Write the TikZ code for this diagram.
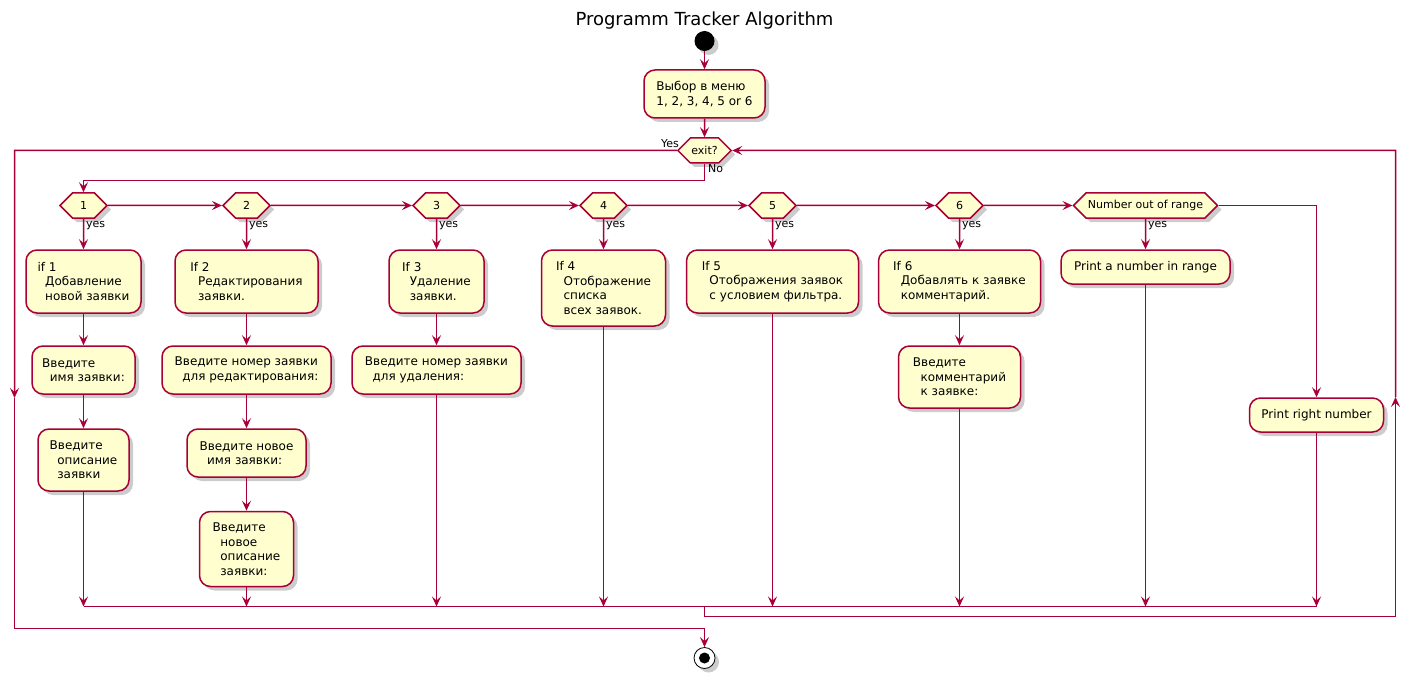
\documentclass[tikz,border=0pt]{standalone}
\usepackage{fontspec}
\setmainfont{DejaVu Sans}
\usetikzlibrary{arrows.meta,shapes.symbols,shadows}
\definecolor{umlred}{HTML}{A80036}
\definecolor{umlfill}{HTML}{FEFECE}
\newcommand{\ind}{\hspace*{7.6pt}}

\begin{document}
\begin{tikzpicture}[x=1pt,y=-1pt,
  line/.style={draw=umlred, line width=1.5pt},
  arr/.style={line, -{Stealth[length=10pt,width=9pt,inset=4pt]}},
  boxshadow/.style={drop shadow={shadow xshift=4pt,shadow yshift=-4pt,fill=black,opacity=0.2}},
  act/.style={draw=umlred, fill=umlfill, line width=1.5pt, rounded corners=11pt,
    align=left, font=\fontsize{12}{14.5}\selectfont, inner sep=2pt, boxshadow},
  cond/.style={draw=umlred, fill=umlfill, line width=1.5pt, signal,
    signal to=west and east, signal pointer angle=90, minimum height=25pt,
    font=\fontsize{11}{13}\selectfont, inner sep=1pt, boxshadow},
  lbl/.style={font=\fontsize{11}{13}\selectfont, inner sep=0pt},
]
\path[use as bounding box] (0,0) rectangle (1410,679);

% title, start, menu choice and exit test
\node[font=\fontsize{18}{21}\selectfont] (title) at (704.5,21) {Programm Tracker Algorithm};
\node[circle, fill=black, minimum size=20pt, inner sep=0pt, boxshadow] (start) at (704.5,41) {};
\node[act, minimum width=121pt, minimum height=48pt] (menu) at (704.5,94) {Выбор в меню\\1, 2, 3, 4, 5 or 6};
\node[cond, minimum width=48pt] (exit) at (704.5,150.5) {exit?};

% menu item tests
\node[cond, minimum width=47pt] (d1) at (83.5,205.5) {1};
\node[cond, minimum width=47pt] (d2) at (246.5,205.5) {2};
\node[cond, minimum width=47pt] (d3) at (436.5,205.5) {3};
\node[cond, minimum width=47pt] (d4) at (603.5,205.5) {4};
\node[cond, minimum width=47pt] (d5) at (772.5,205.5) {5};
\node[cond, minimum width=47pt] (d6) at (959.5,205.5) {6};
\node[cond, minimum width=144pt] (d7) at (1145.5,205.5) {Number out of range};

% column 1
\node[act, minimum width=115pt, minimum height=63pt] (b11) at (83.5,281.5) {if 1\\\ind Добавление\\\ind новой заявки};
\node[act, minimum width=103pt, minimum height=48pt] (b12) at (83.5,370) {Введите\\\ind имя заявки:};
\node[act, minimum width=91pt, minimum height=62pt] (b13) at (83.5,460) {Введите\\\ind описание\\\ind заявки};
% column 2
\node[act, minimum width=143pt, minimum height=63pt] (b21) at (246.5,281.5) {If 2\\\ind Редактирования\\\ind заявки.};
\node[act, minimum width=169pt, minimum height=48pt] (b22) at (246.5,370) {Введите номер заявки\\\ind для редактирования:};
\node[act, minimum width=119pt, minimum height=48pt] (b23) at (246.5,453) {Введите новое\\\ind имя заявки:};
\node[act, minimum width=94pt, minimum height=75pt] (b24) at (246.5,549) {Введите\\\ind новое\\\ind описание\\\ind заявки:};
% column 3
\node[act, minimum width=95pt, minimum height=63pt] (b31) at (436.5,281.5) {If 3\\\ind Удаление\\\ind заявки.};
\node[act, minimum width=169pt, minimum height=48pt] (b32) at (436.5,370) {Введите номер заявки\\\ind для удаления:};
% column 4
\node[act, minimum width=124pt, minimum height=76pt] (b41) at (603.5,288) {If 4\\\ind Отображение\\\ind списка\\\ind всех заявок.};
% column 5
\node[act, minimum width=172pt, minimum height=63pt] (b51) at (772.5,281.5) {If 5\\\ind Отображения заявок\\\ind с условием фильтра.};
% column 6
\node[act, minimum width=162pt, minimum height=63pt] (b61) at (959.5,281.5) {If 6\\\ind Добавлять к заявке\\\ind комментарий.};
\node[act, minimum width=122pt, minimum height=62pt] (b62) at (959.5,377) {Введите\\\ind комментарий\\\ind к заявке:};
% columns 7 and 8
\node[act, minimum width=169pt, minimum height=34pt] (b71) at (1145.5,267) {Print a number in range};
\node[act, minimum width=134pt, minimum height=34pt] (b72) at (1316.5,415) {Print right number};

% end
\node[circle, draw=black, fill=white, line width=0.8pt, minimum size=21pt, inner sep=0pt, boxshadow] (stop) at (704.5,658) {};
\node[circle, fill=black, minimum size=11pt, inner sep=0pt] (stopdot) at (stop) {};

% routing points
\coordinate (nob) at (704.5,180.5);
\coordinate (lt) at (14.5,150.5);
\coordinate (lmid) at (14.5,398);
\coordinate (lb) at (14.5,628.5);
\coordinate (mrg) at (83.5,606.5);
\coordinate (mrgend) at (1316.5,606.5);
\coordinate (mrgmid) at (704.5,606.5);
\coordinate (rb1) at (704.5,616.5);
\coordinate (rb2) at (1395.5,616.5);
\coordinate (rmid) at (1395.5,397);
\coordinate (rt) at (1395.5,150.5);

% main flow
\draw[arr] (start) -- (menu);
\draw[arr] (menu) -- (exit);
\draw[arr] (exit.south) -- (nob) -| (d1.north);
\node[lbl, anchor=west] at (708,169) {No};
\node[lbl, anchor=east] at (679,144) {Yes};

% chain of tests
\draw[arr] (d1) -- (d2);
\draw[arr] (d2) -- (d3);
\draw[arr] (d3) -- (d4);
\draw[arr] (d4) -- (d5);
\draw[arr] (d5) -- (d6);
\draw[arr] (d6) -- (d7);
\draw[arr] (d7.east) -| (b72.north);

% yes branches
\draw[arr] (d1) -- (b11);
\draw[arr] (d2) -- (b21);
\draw[arr] (d3) -- (b31);
\draw[arr] (d4) -- (b41);
\draw[arr] (d5) -- (b51);
\draw[arr] (d6) -- (b61);
\draw[arr] (d7) -- (b71);
\foreach \cx in {83.5,246.5,436.5,603.5,772.5,959.5,1145.5}
  \node[lbl, anchor=west] at (\cx+2.5,225.5) {yes};

% action sequences
\draw[arr] (b11) -- (b12);
\draw[arr] (b12) -- (b13);
\draw[arr] (b21) -- (b22);
\draw[arr] (b22) -- (b23);
\draw[arr] (b23) -- (b24);
\draw[arr] (b31) -- (b32);
\draw[arr] (b61) -- (b62);

% into the merge bar
\draw[arr] (b13) -- (b13 |- mrg);
\draw[arr] (b24) -- (b24 |- mrg);
\draw[arr] (b32) -- (b32 |- mrg);
\draw[arr] (b41) -- (b41 |- mrg);
\draw[arr] (b51) -- (b51 |- mrg);
\draw[arr] (b62) -- (b62 |- mrg);
\draw[arr] (b71) -- (b71 |- mrg);
\draw[arr] (b72) -- (b72 |- mrg);
\draw[line] (mrg) -- (mrgend);

% loop back to the exit test
\draw[arr] (mrgmid) -- (rb1) -- (rb2) -- (rmid);
\draw[arr] (rmid) -- (rt) -- (exit);

% exit path
\draw[arr] (exit) -- (lt) -- (lmid);
\draw[arr] (lmid) -- (lb) -| (stop.north);
\end{tikzpicture}
\end{document}
